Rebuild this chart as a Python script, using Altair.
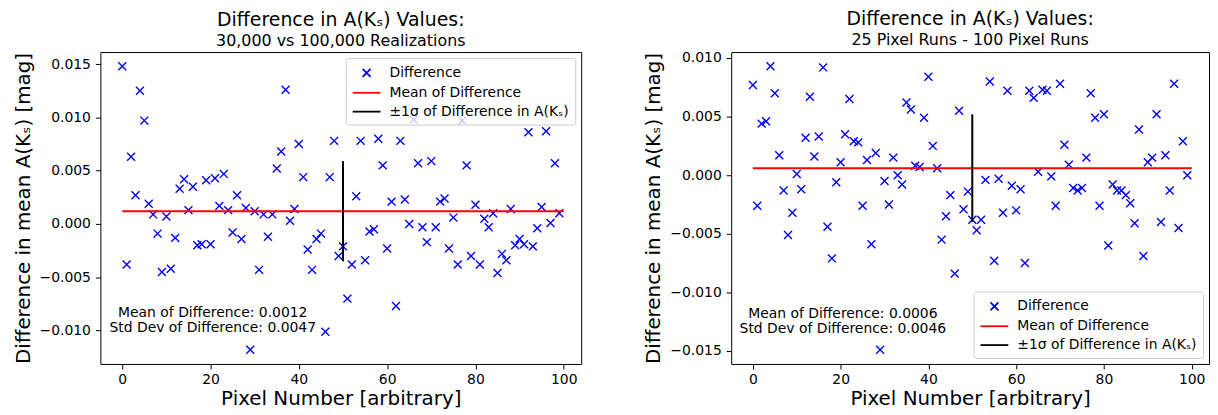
import altair as alt
import pandas as pd

pixel = list(range(100))

diff_left = [
    0.0148, -0.0038, 0.0063, 0.0027, 0.0125, 0.0097, 0.0019, 0.0009, -0.0009, -0.0045,
    0.0007, -0.0042, -0.0013, 0.0033, 0.0042, 0.0013, 0.0035, -0.0020, -0.0019, 0.0041,
    -0.0019, 0.0043, 0.0017, 0.0047, 0.0013, -0.0008, 0.0027, -0.0014, 0.0015, -0.0118,
    0.0012, -0.0043, 0.0009, -0.0012, 0.0009, 0.0052, 0.0068, 0.0126, 0.0003, 0.0014,
    0.0075, 0.0044, -0.0024, -0.0043, -0.0014, -0.0009, -0.0101, 0.0044, 0.0078, -0.0030,
    -0.0021, -0.0070, -0.0038, 0.0026, 0.0078, -0.0034, -0.0007, -0.0005, 0.0080, 0.0055,
    -0.0023, 0.0021, -0.0077, 0.0078, 0.0023, 0.0000, 0.0098, 0.0057, -0.0003, -0.0017,
    0.0059, -0.0003, 0.0021, 0.0024, -0.0023, 0.0006, -0.0038, 0.0097, 0.0055, -0.0030,
    0.0018, -0.0038, 0.0005, -0.0003, 0.0010, -0.0046, -0.0028, -0.0034, 0.0014, -0.0020,
    -0.0014, -0.0019, 0.0086, -0.0021, -0.0004, 0.0016, 0.0087, 0.0001, 0.0057, 0.0010,
]

diff_right = [
    0.0077, -0.0026, 0.0044, 0.0046, 0.0093, 0.0070, 0.0017, -0.0013, -0.0051, -0.0032,
    0.0001, -0.0012, 0.0032, 0.0067, 0.0016, 0.0033, 0.0092, -0.0044, -0.0071, -0.0006,
    0.0011, 0.0035, 0.0065, 0.0029, 0.0028, -0.0026, 0.0013, -0.0059, 0.0019, -0.0149,
    -0.0005, -0.0025, 0.0015, 0.0000, -0.0008, 0.0062, 0.0056, 0.0008, 0.0007, 0.0049,
    0.0084, 0.0025, 0.0006, -0.0055, -0.0035, -0.0017, -0.0084, 0.0055, -0.0029, -0.0014,
    -0.0038, -0.0047, -0.0038, -0.0004, 0.0080, -0.0073, -0.0003, -0.0032, 0.0072, -0.0009,
    -0.0030, -0.0012, -0.0075, 0.0072, 0.0066, 0.0003, 0.0073, 0.0072, -0.0001, -0.0026,
    0.0078, 0.0026, 0.0009, -0.0011, -0.0013, -0.0011, 0.0015, 0.0070, 0.0049, -0.0026,
    0.0052, -0.0060, -0.0008, -0.0013, -0.0013, -0.0017, -0.0024, -0.0041, 0.0039, -0.0069,
    0.0011, 0.0015, 0.0052, -0.0040, 0.0017, -0.0013, 0.0078, -0.0045, 0.0029, 0.0000,
]

mean_left, std_left = 0.0012, 0.0047
mean_right, std_right = 0.0006, 0.0046

title_main = "Difference in A(Kₛ) Values:"
subtitle_left = "30,000 vs 100,000 Realizations"
subtitle_right = "25 Pixel Runs - 100 Pixel Runs"
series = ["Difference", "Mean of Difference", "±1σ of Difference in A(Kₛ)"]
x_ticks = [0, 20, 40, 60, 80, 100]
y_ticks_left = [-0.010, -0.005, 0.0, 0.005, 0.010, 0.015]
y_ticks_right = [-0.015, -0.010, -0.005, 0.0, 0.005, 0.010]

X_TITLE = "Pixel Number [arbitrary]"
Y_TITLE = "Difference in mean A(Kₛ) [mag]"
FONT = "DejaVu Sans"
X_PATH = "M-0.5,-0.5L0.5,0.5M-0.5,0.5L0.5,-0.5"
LINE_PATH = "M-1.75,0L1.75,0"


def panel(values, mean, std, subtitle, yticks, legend_orient, text_ys, width):
    lo, hi = min(values), max(values)
    rng = hi - lo
    ydom = [lo - 0.05 * rng, hi + 0.05 * rng]
    xdom = [-0.05 * 99, 99 + 0.05 * 99]

    xscale = alt.Scale(domain=xdom, nice=False, zero=False)
    yscale = alt.Scale(domain=ydom, nice=False, zero=False)
    xaxis = alt.Axis(values=x_ticks, format="d", title=X_TITLE, labelPadding=4, titlePadding=2)
    yaxis = alt.Axis(values=yticks, format=".3f", title=Y_TITLE)

    df = pd.DataFrame({"pixel": pixel, "diff": values, "series": series[0]})
    leg = alt.Legend(
        orient=legend_orient, offset=6, padding=6, symbolOffset=6, labelOffset=14,
        rowPadding=3, symbolSize=256, symbolStrokeWidth=1.8,
        fillColor="rgba(255,255,255,0.8)", strokeColor="#cccccc", cornerRadius=3,
        labelFont=FONT, labelFontSize=14, labelColor="black", labelLimit=400,
    )
    pts = alt.Chart(df).mark_point(filled=False, size=256, strokeWidth=1.4, opacity=1).encode(
        x=alt.X("pixel:Q", scale=xscale, axis=xaxis),
        y=alt.Y("diff:Q", scale=yscale, axis=yaxis),
        color=alt.Color("series:N", title=None, legend=leg,
                        scale=alt.Scale(domain=series, range=["#0000ff", "#ff0000", "#000000"])),
        shape=alt.Shape("series:N", title=None, legend=leg,
                        scale=alt.Scale(domain=series, range=[X_PATH, LINE_PATH, LINE_PATH])),
    )

    mdf = pd.DataFrame({"x": [0], "x2": [100], "y": [mean]})
    mline = alt.Chart(mdf).mark_rule(color="#ff0000", strokeWidth=2).encode(
        x=alt.X("x:Q", title=X_TITLE), x2="x2:Q", y=alt.Y("y:Q", title=Y_TITLE))

    sdf = pd.DataFrame({"x": [50], "y": [mean - std], "y2": [mean + std]})
    sline = alt.Chart(sdf).mark_rule(color="#000000", strokeWidth=2).encode(
        x=alt.X("x:Q", title=X_TITLE), y=alt.Y("y:Q", title=Y_TITLE), y2="y2:Q")

    tdf = pd.DataFrame({
        "x": [20.5, 20.5],
        "y": text_ys,
        "t": [f"Mean of Difference: {mean:.4f}", f"Std Dev of Difference: {std:.4f}"],
    })
    txt = alt.Chart(tdf).mark_text(font=FONT, fontSize=14, color="black",
                                   align="center", baseline="middle").encode(
        x=alt.X("x:Q", title=X_TITLE), y=alt.Y("y:Q", title=Y_TITLE), text="t:N")

    return alt.layer(pts, mline, sline, txt).properties(
        width=width, height=314,
        title=alt.TitleParams(text=title_main, subtitle=subtitle, font=FONT, subtitleFont=FONT,
                              fontSize=19, subtitleFontSize=16, fontWeight="normal",
                              color="black", subtitleColor="black", anchor="middle",
                              offset=3, subtitlePadding=3),
    )


left = panel(diff_left, mean_left, std_left, subtitle_left, y_ticks_left,
             "top-right", [-0.00835, -0.00973], 484)
right = panel(diff_right, mean_right, std_right, subtitle_right, y_ticks_right,
              "bottom-right", [-0.01183, -0.0131], 481)

chart = (
    alt.hconcat(left, right, spacing=61)
    .resolve_scale(x="independent", y="independent", color="independent", shape="independent")
    .resolve_legend(color="independent", shape="independent")
    .properties(padding={"left": 4, "top": 0, "right": 0, "bottom": 0})
    .configure_view(stroke="black", strokeWidth=1)
    .configure_axis(
        labelFont=FONT, labelFontSize=14, labelColor="black",
        titleFont=FONT, titleFontSize=20, titleFontWeight="normal", titleColor="black",
        tickColor="black", tickSize=5, tickWidth=1, labelPadding=5, titlePadding=6,
        grid=False, domain=False,
    )
)

chart.save("out.html", embed_options={"renderer": "svg", "actions": False})
